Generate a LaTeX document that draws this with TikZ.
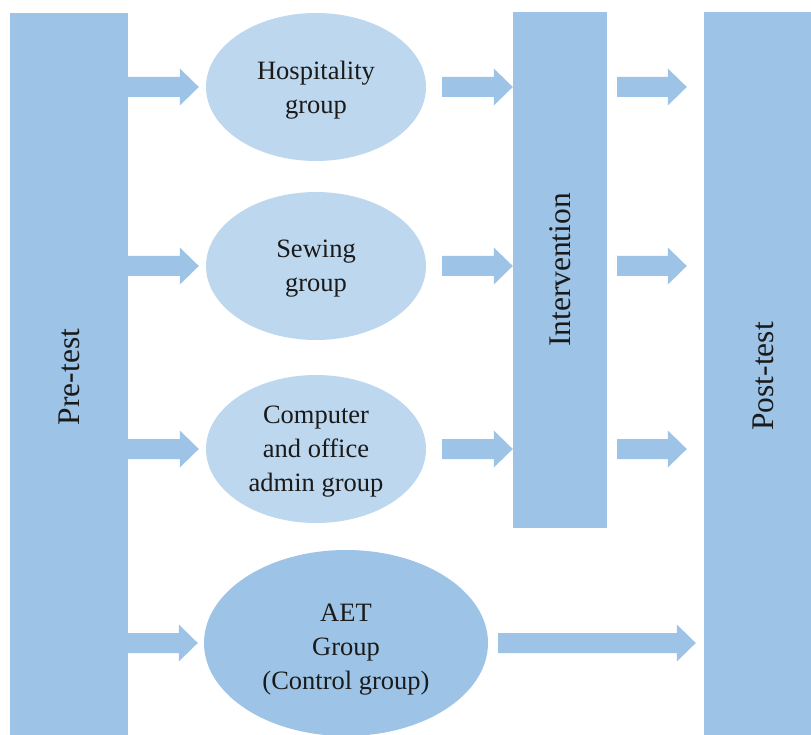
\documentclass[tikz,border=0pt]{standalone}
\usepackage{fontspec}
\setmainfont{Liberation Serif}
\usetikzlibrary{shapes.geometric,calc}

\definecolor{boxblue}{HTML}{9DC3E6}
\definecolor{paleblue}{HTML}{BDD7EE}
\definecolor{inkgray}{HTML}{1A1A1A}

% Block arrow from the first point to the second (horizontal)
\newcommand\flowarrow[2]{%
  \fill[boxblue] let \p1=#1, \p2=#2 in
    (\x1,\y1+10pt) -- (\x2-19pt,\y1+10pt) -- (\x2-19pt,\y1+18.5pt) --
    (\x2,\y1) -- (\x2-19pt,\y1-18.5pt) -- (\x2-19pt,\y1-10pt) --
    (\x1,\y1-10pt) -- cycle;}

% Centred lines of text, lowered a little inside an oval
\newcommand\ovaltext[2]{\raisebox{-#1}[\height][\depth]{\begin{tabular}{@{}c@{}}#2\end{tabular}}}

\begin{document}
\begin{tikzpicture}[x=1pt,y=-1pt,
  stagebox/.style={rectangle, fill=boxblue, draw=none, inner sep=0pt,
    text=inkgray, font=\fontsize{31.5}{36}\selectfont},
  groupoval/.style={ellipse, fill=paleblue, draw=none, inner sep=0pt,
    minimum width=220pt, minimum height=148pt,
    text=inkgray, font=\fontsize{26.5}{34}\selectfont},
  controloval/.style={groupoval, fill=boxblue,
    minimum width=284pt, minimum height=186pt}]

\useasboundingbox (0,0) rectangle (811,735);

% Stage columns
\node[stagebox, minimum width=118pt, minimum height=728pt] (pre) at (69,377)
  {\rotatebox{90}{Pre-test}};
\node[stagebox, minimum width=94pt, minimum height=516pt] (int) at (560,270)
  {\rotatebox{90}{Intervention}};
\node[stagebox, minimum width=118pt, minimum height=729pt] (post) at (763,376.5)
  {\rotatebox{90}{Post-test}};

% Groups
\node[groupoval] (hos) at (316,87) {\ovaltext{3pt}{Hospitality\\group}};
\node[groupoval] (sew) at (316,266) {\ovaltext{2pt}{Sewing\\group}};
\node[groupoval] (com) at (316,449) {\ovaltext{2pt}{Computer\\and office\\admin group}};
\node[controloval] (aet) at (346,643) {\ovaltext{6pt}{AET\\Group\\(Control group)}};

% Flow arrows for the three intervention groups
\foreach \g in {hos,sew,com}{
  \flowarrow{(pre.east |- \g.west)}{([xshift=-7pt]\g.west)}
  \flowarrow{([xshift=16pt]\g.east)}{(int.west |- \g.east)}
  \flowarrow{([xshift=10pt]int.east |- \g.east)}{([xshift=-17pt]post.west |- \g.east)}
}

% Control group bypasses the intervention
\flowarrow{(pre.east |- aet.west)}{([xshift=-6pt]aet.west)}
\flowarrow{([xshift=10pt]aet.east)}{([xshift=-8pt]post.west |- aet.east)}

\end{tikzpicture}
\end{document}
